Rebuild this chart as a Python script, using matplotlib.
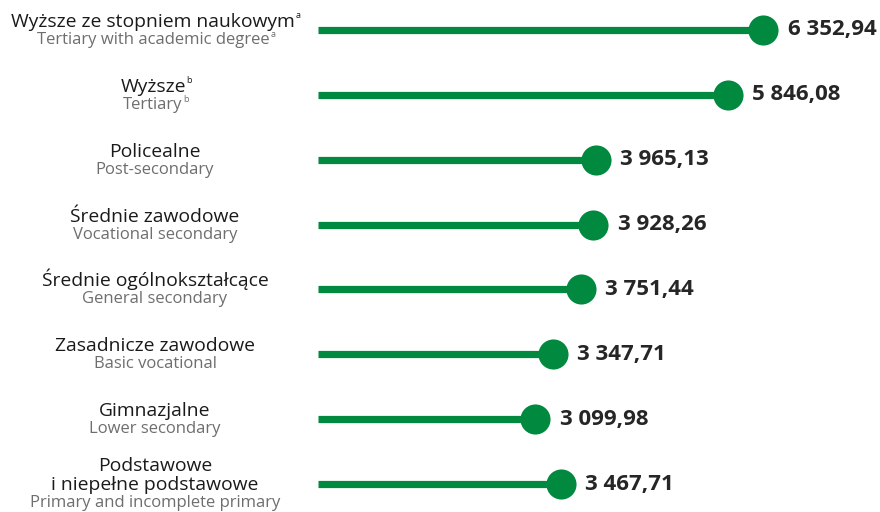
import matplotlib
matplotlib.use("Agg")
import matplotlib.pyplot as plt
from matplotlib.transforms import blended_transform_factory, IdentityTransform

plt.rcParams['font.family'] = ['Open Sans', 'DejaVu Sans']
plt.rcParams['mathtext.fontset'] = 'custom'
plt.rcParams['mathtext.rm'] = 'Open Sans'
plt.rcParams['mathtext.it'] = 'Open Sans'

labels_pl = ["Wyższe ze stopniem naukowym",
             "Wyższe",
             "Policealne",
             "Średnie zawodowe",
             "Średnie ogólnokształcące",
             "Zasadnicze zawodowe",
             "Gimnazjalne",
             "Podstawowe\ni niepełne podstawowe"]
labels_en = ["Tertiary with academic degree",
             "Tertiary",
             "Post-secondary",
             "Vocational secondary",
             "General secondary",
             "Basic vocational",
             "Lower secondary",
             "Primary and incomplete primary"]
notes = ["a", "b", "", "", "", "", "", ""]
values = [6352.94, 5846.08, 3965.13, 3928.26, 3751.44, 3347.71, 3099.98, 3467.71]

GREEN = '#00893F'
ROW_PX = 64.86

fig = plt.figure(figsize=(8.8, 5.12), dpi=100)
ax = fig.add_axes([318/880, 0, 1 - 318/880, 1])
ax.set_xlim(0, 8018)
ax.set_ylim(7.431, -0.4625)
ax.axis('off')

ys = list(range(len(values)))
ax.hlines(ys, 0, values, color=GREEN, lw=5.2, capstyle='butt')
ax.scatter(values, ys, s=470, color=GREEN, zorder=3, linewidths=0)

def fmt(v):
    return f"{v:,.2f}".replace(',', ' ').replace('.', ',')

for y, v in zip(ys, values):
    ax.annotate(fmt(v), (v, y), xytext=(17.5, 0), textcoords='offset points',
                va='center', ha='left', fontsize=16, fontweight='bold',
                color='#262626')

tr = blended_transform_factory(fig.transFigure, ax.transData)
renderer = fig.canvas.get_renderer()
xc = 155/880

def sup(txt, note, color, raise_px):
    if not note:
        return
    bb = txt.get_window_extent(renderer)
    disp = txt.get_transform().transform(txt.get_position())
    fig.text(bb.x1 + 0.5, disp[1] + raise_px, "$\\mathrm{%s}$" % note,
             transform=IdentityTransform(), ha='left', va='baseline',
             fontsize=6.5, color=color)

for y, pl, en, note in zip(ys, labels_pl, labels_en, notes):
    lines = pl.split('\n')
    n = len(lines)
    shift = -2/880 if note else 0
    first = -3 - 19 * (n - 1) / 2 - 0.5 * (n - 1)
    last_pl = None
    for k, line in enumerate(lines):
        last_pl = ax.text(xc + shift, y + (first + 19 * k) / ROW_PX, line, transform=tr,
                          ha='center', va='baseline', fontsize=13.9, color='#1a1a1a')
    en_base = first + 19 * (n - 1) + 17
    t_en = ax.text(xc + shift, y + en_base / ROW_PX, en, transform=tr, ha='center',
                   va='baseline', fontsize=12, color='#6e6e6e')
    sup(last_pl, note, '#1a1a1a', 9)
    sup(t_en, note, '#6e6e6e', 7)

fig.savefig('out.png', dpi=100)
